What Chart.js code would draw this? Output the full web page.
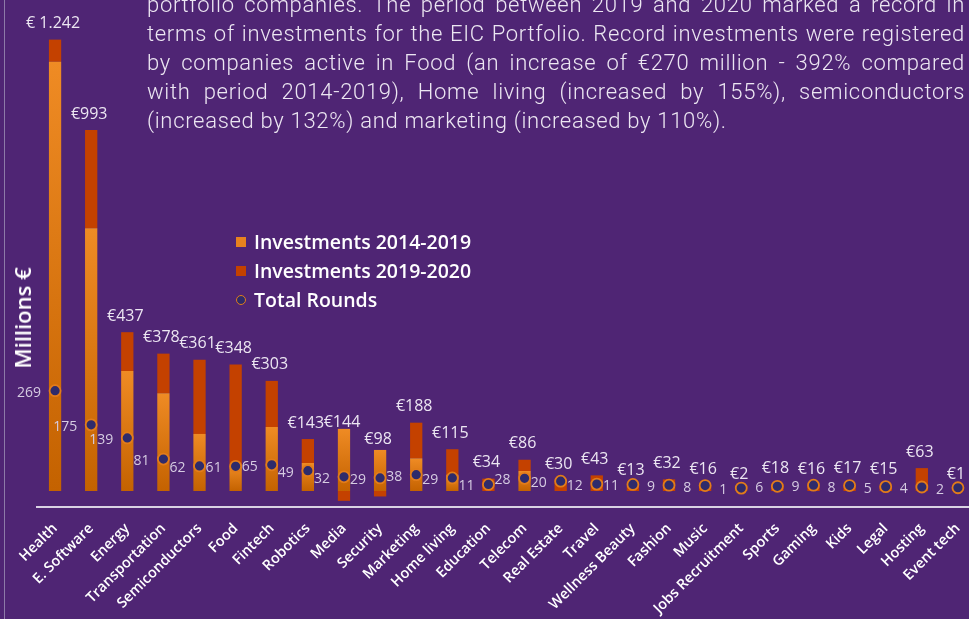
<!DOCTYPE html>
<html><head><meta charset="utf-8">
<script src="https://cdn.jsdelivr.net/npm/chart.js@4"></script>
<style>
html,body{margin:0;padding:0;background:#4f2574;overflow:hidden;width:969px;height:619px;}
#wrap{position:absolute;left:0;top:0;width:1000px;height:619px;}
#edge{position:absolute;left:4px;top:0;width:1px;height:619px;background:#8d7aa8;}
#para{position:absolute;left:147px;top:-8.7px;width:818px;color:#ece6f2;font-family:Roboto,"Open Sans",sans-serif;font-weight:300;font-size:22px;}
.ln{height:28.8px;line-height:28.8px;text-align:justify;text-align-last:justify;white-space:nowrap;overflow:visible;}
.ln.last{text-align-last:left;}
#legend{position:absolute;left:236px;top:227px;font-family:"Open Sans",sans-serif;font-weight:600;font-size:19.5px;color:#fff;}
.lg{height:29px;display:flex;align-items:center;}
.lg span.m{display:inline-block;width:10px;height:10px;margin-right:8px;box-sizing:border-box;}
#ytitle{position:absolute;left:22px;top:318px;transform:translate(-50%,-50%) rotate(-90deg);font-family:"Open Sans",sans-serif;font-weight:600;font-size:22px;color:#fff;white-space:nowrap;}
#measure{position:absolute;visibility:hidden;white-space:nowrap;font-family:Roboto,"Open Sans",sans-serif;font-weight:300;font-size:22px;}
</style></head>
<body>
<div id="wrap"><canvas id="c" width="1000" height="619"></canvas></div>
<div id="edge"></div>
<div id="para">
<div class="ln">portfolio companies. The period between 2019 and 2020 marked a record in</div>
<div class="ln">terms of investments for the EIC Portfolio. Record investments were registered</div>
<div class="ln">by companies active in Food (an increase of €270 million - 392% compared</div>
<div class="ln">with period 2014-2019), Home living (increased by 155%), semiconductors</div>
<div class="ln last">(increased by 132%) and marketing (increased by 110%).</div>
</div>
<span id="measure"></span>
<div id="legend"></div>
<div id="ytitle">Millions €</div>
<script>
const categories = ["Health","E. Software","Energy","Transportation","Semiconductors","Food","Fintech","Robotics","Media","Security","Marketing","Home living","Education","Telecom","Real Estate","Travel","Wellness Beauty","Fashion","Music","Jobs Recruitment","Sports","Gaming","Kids","Legal","Hosting","Event tech"];
const invest2014_2019 = [1181,723,330,269,157,70,176,77,171,113,90,45,0,55,0,0,0,0,0,0,0,0,0,0,0,0];
const invest2019_2020 = [61,270,107,109,204,278,127,66,-27,-15,98,70,34,31,30,43,13,32,16,2,18,16,17,15,63,1];
const totals = [1242,993,437,378,361,348,303,143,144,98,188,115,34,86,30,43,13,32,16,2,18,16,17,15,63,1];
const totalRounds = [269,175,139,81,62,61,65,49,32,29,38,29,11,28,20,12,11,9,8,1,6,9,8,5,4,2];
const seriesNames = ["Investments 2014-2019","Investments 2019-2020","Total Rounds"];

const LIGHT = '#e8821f', DARK = '#c44100', DOT = '#2e2b6b', RING = '#e27c1a';

// paragraph: uniform letter-spacing so the longest line nearly fills the width
(function fitPara(){
  const lines = Array.from(document.querySelectorAll('#para .ln'));
  const m = document.getElementById('measure');
  let best = 0;
  lines.forEach(l => {
    m.textContent = l.textContent;
    const w = m.getBoundingClientRect().width;
    const ls = (810 - w) / l.textContent.length;
    if (best === 0 || ls < best) best = ls;
  });
  best = Math.max(0, Math.min(1, best));
  document.getElementById('para').style.letterSpacing = best + 'px';
})();

function fmtTotal(v){
  if (v >= 1000) return '€ ' + Math.floor(v/1000) + '.' + String(v%1000).padStart(3,'0');
  return '€' + v;
}

function lightGradient(ctx){
  const chart = ctx.chart;
  if (!chart.chartArea || ctx.type !== 'data' || !chart.scales.y) return LIGHT;
  const v = ctx.raw;
  if (!v) return LIGHT;
  const yTop = chart.scales.y.getPixelForValue(v);
  const yBase = chart.scales.y.getPixelForValue(0);
  if (!isFinite(yTop) || !isFinite(yBase) || yTop === yBase) return LIGHT;
  const g = chart.ctx.createLinearGradient(0, yTop, 0, yBase);
  g.addColorStop(0, '#ef8b24');
  g.addColorStop(1, '#c46200');
  return g;
}

const labelPlugin = {
  id: 'valueLabels',
  afterDatasetsDraw(chart){
    const {ctx, scales:{x, y, y2}} = chart;
    ctx.save();
    ctx.font = '16px "Open Sans", sans-serif';
    ctx.fillStyle = '#ece6f2';
    ctx.textAlign = 'center';
    ctx.textBaseline = 'middle';
    totals.forEach((t, i) => {
      ctx.fillText(fmtTotal(t), x.getPixelForValue(i) - 2, y.getPixelForValue(t) - 16);
    });
    ctx.font = '14px "Open Sans", sans-serif';
    ctx.fillStyle = '#d6cce2';
    ctx.textAlign = 'right';
    totalRounds.forEach((r, i) => {
      ctx.fillText(String(r), x.getPixelForValue(i) - 14, y2.getPixelForValue(r) + 2);
    });
    ctx.restore();
  }
};

new Chart(document.getElementById('c'), {
  type: 'bar',
  data: {
    labels: categories,
    datasets: [
      {type:'line', label: seriesNames[2], data: totalRounds, yAxisID:'y2', showLine:false,
       pointRadius:5.5, pointHoverRadius:5.5, pointBackgroundColor:DOT, pointBorderColor:RING, pointBorderWidth:1.8, order:0},
      {label: seriesNames[0], data: invest2014_2019, backgroundColor: lightGradient, stack:'s', order:1,
       barPercentage:0.34, categoryPercentage:1},
      {label: seriesNames[1], data: invest2019_2020, backgroundColor: DARK, stack:'s', order:2,
       barPercentage:0.34, categoryPercentage:1}
    ]
  },
  options: {
    responsive:false, animation:false,
    layout:{autoPadding:false, padding:{left:37, right:24, top:0, bottom:0}},
    plugins:{legend:{display:false}, tooltip:{enabled:false}},
    scales:{
      x:{stacked:true, grid:{display:false, drawTicks:false},
         border:{display:true, color:'#d9d2e3', width:2},
         ticks:{color:'#ffffff', font:{family:'"Open Sans", sans-serif', size:14.5, weight:'600'},
                minRotation:45, maxRotation:45, autoSkip:false, padding:13},
         afterFit(scale){ scale.height = 112; }
      },
      y:{stacked:true, display:false, min:-44, max:1351},
      y2:{display:false, min:-51, max:1344}
    }
  },
  plugins:[labelPlugin]
});

// legend built from the series names
const lg = document.getElementById('legend');
[[seriesNames[0],'background:'+LIGHT],[seriesNames[1],'background:'+DARK],[seriesNames[2],'background:'+DOT+';border:1.6px solid '+RING+';border-radius:50%']].forEach(([t,s])=>{
  const d = document.createElement('div'); d.className='lg';
  d.innerHTML = '<span class="m" style="'+s+'"></span>'+t;
  lg.appendChild(d);
});
</script>
</body></html>
